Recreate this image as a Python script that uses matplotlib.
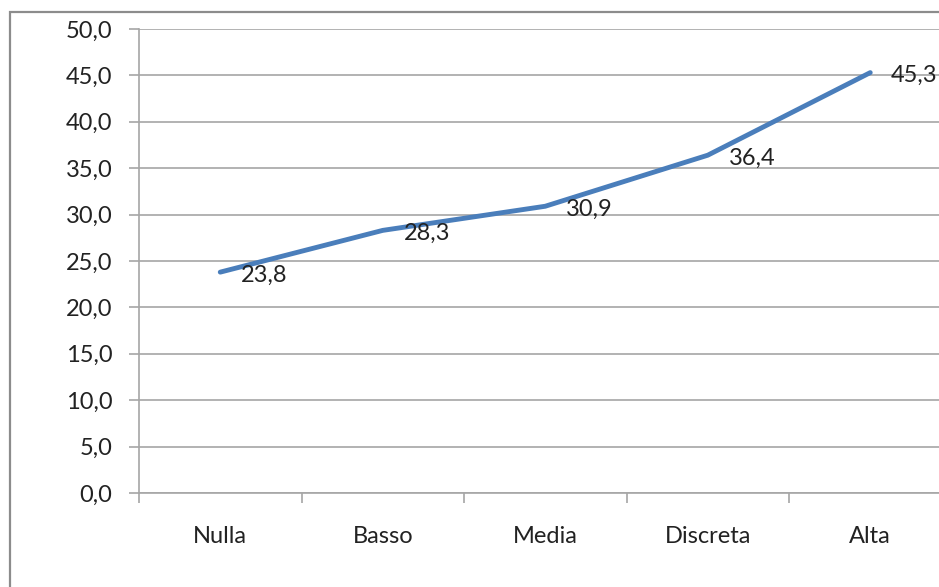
import matplotlib.pyplot as plt
import matplotlib.patches as patches
from matplotlib.ticker import FuncFormatter

categorie = ["Nulla", "Basso", "Media", "Discreta", "Alta"]
valori = [23.8, 28.3, 30.9, 36.4, 45.3]
y_ticks = [0, 5, 10, 15, 20, 25, 30, 35, 40, 45, 50]

plt.rcParams['font.family'] = ['Lato', 'DejaVu Sans']

W, H = 939, 587
fig = plt.figure(figsize=(W / 100, H / 100), dpi=100)

# cornice grigia del grafico (esce dal bordo a destra e in basso)
cornice = patches.Rectangle((10 / W, -0.1), 1.2, 1 - 12 / H + 0.1,
                            transform=fig.transFigure, fill=False,
                            edgecolor='#8c8c8c', linewidth=1.6)
fig.patches.append(cornice)

left, right, top, bottom = 139, 951.5, 29, 493
ax = fig.add_axes([left / W, 1 - bottom / H, (right - left) / W, (bottom - top) / H])

x = list(range(len(categorie)))
ax.plot(x, valori, color='#4a7ebb', linewidth=3.5, solid_capstyle='round', zorder=3)

fs = 17
for xi, v in zip(x, valori):
    ax.annotate(f"{v:.1f}".replace('.', ','), (xi, v), xytext=(15, -2),
                textcoords='offset points', ha='left', va='center',
                fontsize=fs, color='#222222', zorder=4)

ax.set_xlim(-0.5, len(categorie) - 0.5)
ax.set_ylim(0, 50)
ax.set_yticks(y_ticks)
ax.yaxis.set_major_formatter(FuncFormatter(lambda v, p: f"{v:.1f}".replace('.', ',')))
ax.set_xticks(x)
ax.set_xticklabels(categorie)
ax.set_xticks([i - 0.5 for i in range(len(categorie) + 1)], minor=True)

ax.grid(axis='y', color='#a6a6a6', linewidth=1.2)
ax.set_axisbelow(True)
for lato in ['top', 'right']:
    ax.spines[lato].set_visible(False)
for lato in ['left', 'bottom']:
    ax.spines[lato].set_color('#a6a6a6')
    ax.spines[lato].set_linewidth(1.2)

ax.tick_params(axis='y', length=7, width=1.2, color='#a6a6a6', pad=12,
               labelsize=fs, labelcolor='#222222')
ax.tick_params(axis='x', which='major', length=0, pad=24,
               labelsize=fs, labelcolor='#222222')
ax.tick_params(axis='x', which='minor', length=7, width=1.2, color='#a6a6a6')

fig.savefig("out.png", dpi=100)
